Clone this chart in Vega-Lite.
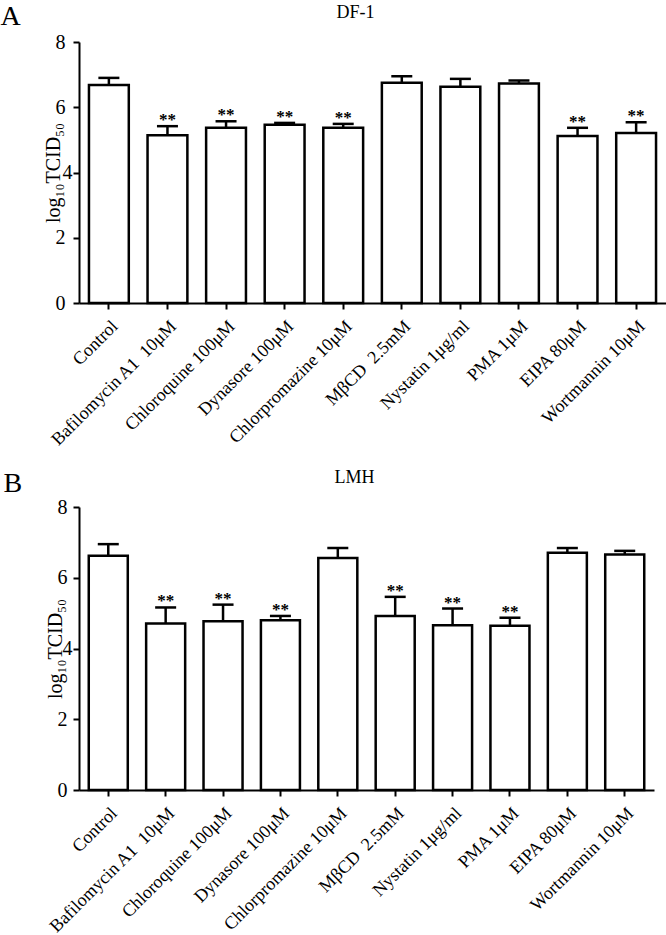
{
  "$schema": "https://vega.github.io/schema/vega-lite/v6.json",
  "background": "white",
  "padding": {"left": 0, "top": 2, "right": 0, "bottom": 0},
  "config": {
    "font": "Liberation Serif",
    "view": {"stroke": null},
    "axis": {"grid": false, "domainColor": "black", "tickColor": "black", "labelColor": "black", "titleColor": "black", "domainWidth": 2, "tickWidth": 2, "labelFont": "Liberation Serif", "titleFont": "Liberation Serif"},
    "title": {"font": "Liberation Serif", "fontWeight": "normal", "color": "black"}
  },
  "datasets": {
    "dfone": [
      {"treatment": "Control", "mean": 6.68, "upper": 6.9, "sig": ""},
      {"treatment": "Bafilomycin A1\u00a0 10μM", "mean": 5.14, "upper": 5.42, "sig": "**"},
      {"treatment": "Chloroquine 100μM", "mean": 5.37, "upper": 5.57, "sig": "**"},
      {"treatment": "Dynasore 100μM", "mean": 5.46, "upper": 5.52, "sig": "**"},
      {"treatment": "Chlorpromazine 10μM", "mean": 5.37, "upper": 5.49, "sig": "**"},
      {"treatment": "MβCD\u00a0 2.5mM", "mean": 6.75, "upper": 6.95, "sig": ""},
      {"treatment": "Nystatin 1μg/ml", "mean": 6.63, "upper": 6.87, "sig": ""},
      {"treatment": "PMA 1μM", "mean": 6.73, "upper": 6.82, "sig": ""},
      {"treatment": "EIPA 80μM", "mean": 5.12, "upper": 5.37, "sig": "**"},
      {"treatment": "Wortmannin 10μM", "mean": 5.21, "upper": 5.54, "sig": "**"}
    ],
    "lmh": [
      {"treatment": "Control", "mean": 6.62, "upper": 6.95, "sig": ""},
      {"treatment": "Bafilomycin A1\u00a0 10μM", "mean": 4.71, "upper": 5.16, "sig": "**"},
      {"treatment": "Chloroquine 100μM", "mean": 4.77, "upper": 5.24, "sig": "**"},
      {"treatment": "Dynasore 100μM", "mean": 4.8, "upper": 4.92, "sig": "**"},
      {"treatment": "Chlorpromazine 10μM", "mean": 6.56, "upper": 6.84, "sig": ""},
      {"treatment": "MβCD\u00a0 2.5mM", "mean": 4.92, "upper": 5.46, "sig": "**"},
      {"treatment": "Nystatin 1μg/ml", "mean": 4.66, "upper": 5.13, "sig": "**"},
      {"treatment": "PMA 1μM", "mean": 4.64, "upper": 4.87, "sig": "**"},
      {"treatment": "EIPA 80μM", "mean": 6.71, "upper": 6.84, "sig": ""},
      {"treatment": "Wortmannin 10μM", "mean": 6.66, "upper": 6.76, "sig": ""}
    ]
  },
  "vconcat": [
    {
      "data": {"name": "dfone"},
      "width": 587,
      "height": 261,
      "title": {"text": "DF-1", "fontSize": 18, "anchor": "middle", "frame": "group", "dx": -17, "dy": 24},
      "encoding": {
        "x": {"field": "treatment", "type": "nominal", "sort": null, "scale": {"paddingInner": 0.32, "paddingOuter": 0.17}},
        "y": {"type": "quantitative", "scale": {"domain": [0, 8], "nice": false}}
      },
      "resolve": {"axis": {"x": "independent"}},
      "layer": [
        {
          "mark": {"type": "bar", "fill": "white", "stroke": "black", "strokeWidth": 2.5},
          "encoding": {
            "x": {"field": "treatment", "type": "nominal", "sort": null, "axis": {"orient": "bottom", "title": null, "labelAngle": -45, "labelFontSize": 18, "labelLimit": 0, "tickSize": 6, "labelPadding": 8}},
            "y": {"field": "mean", "type": "quantitative", "axis": {"title": "log₁₀TCID₅₀", "titleFontSize": 20, "titleFontWeight": "normal", "labelFontSize": 20, "values": [0, 2, 4, 6, 8], "tickSize": 6, "labelPadding": {"condition": {"test": "datum.value == 4", "value": 1}, "value": 8}, "titlePadding": -8}}
          }
        },
        {
          "mark": {"type": "rule", "stroke": "black", "strokeWidth": 2.5},
          "encoding": {
            "x": {"field": "treatment", "type": "nominal", "sort": null, "axis": {"orient": "top", "domain": false, "ticks": false, "labels": false, "title": "A", "titleFontSize": 28, "titleFontWeight": "normal", "titleX": -79, "titleY": -18, "titleAlign": "left", "titleBaseline": "alphabetic"}},
            "y": {"field": "mean", "type": "quantitative"},
            "y2": {"field": "upper"}
          }
        },
        {
          "mark": {"type": "tick", "color": "black", "size": 21, "thickness": 2.5, "opacity": 1},
          "encoding": {
            "x": {"field": "treatment", "type": "nominal", "sort": null, "axis": null},
            "y": {"field": "upper", "type": "quantitative"}
          }
        },
        {
          "mark": {"type": "text", "fontSize": 17, "fontWeight": "bold", "baseline": "alphabetic", "dy": -1, "color": "black"},
          "encoding": {
            "x": {"field": "treatment", "type": "nominal", "sort": null, "axis": null},
            "y": {"field": "upper", "type": "quantitative"},
            "text": {"field": "sig"}
          }
        }
      ]
    },
    {
      "data": {"name": "lmh"},
      "width": 575,
      "height": 283,
      "title": {"text": "LMH", "fontSize": 18, "anchor": "middle", "frame": "group", "dx": -12, "dy": 22},
      "encoding": {
        "x": {"field": "treatment", "type": "nominal", "sort": null, "scale": {"paddingInner": 0.32, "paddingOuter": 0.17}},
        "y": {"type": "quantitative", "scale": {"domain": [0, 8], "nice": false}}
      },
      "resolve": {"axis": {"x": "independent"}},
      "layer": [
        {
          "mark": {"type": "bar", "fill": "white", "stroke": "black", "strokeWidth": 2.5},
          "encoding": {
            "x": {"field": "treatment", "type": "nominal", "sort": null, "axis": {"orient": "bottom", "title": null, "labelAngle": -45, "labelFontSize": 18, "labelLimit": 0, "tickSize": 6, "labelPadding": 8}},
            "y": {"field": "mean", "type": "quantitative", "axis": {"title": "log₁₀TCID₅₀", "titleFontSize": 20, "titleFontWeight": "normal", "labelFontSize": 20, "values": [0, 2, 4, 6, 8], "tickSize": 6, "labelPadding": {"condition": {"test": "datum.value == 4", "value": 1}, "value": 6}, "titlePadding": -8}}
          }
        },
        {
          "mark": {"type": "rule", "stroke": "black", "strokeWidth": 2.5},
          "encoding": {
            "x": {"field": "treatment", "type": "nominal", "sort": null, "axis": {"orient": "top", "domain": false, "ticks": false, "labels": false, "title": "B", "titleFontSize": 28, "titleFontWeight": "normal", "titleX": -76, "titleY": -16, "titleAlign": "left", "titleBaseline": "alphabetic"}},
            "y": {"field": "mean", "type": "quantitative"},
            "y2": {"field": "upper"}
          }
        },
        {
          "mark": {"type": "tick", "color": "black", "size": 21, "thickness": 2.5, "opacity": 1},
          "encoding": {
            "x": {"field": "treatment", "type": "nominal", "sort": null, "axis": null},
            "y": {"field": "upper", "type": "quantitative"}
          }
        },
        {
          "mark": {"type": "text", "fontSize": 17, "fontWeight": "bold", "baseline": "alphabetic", "dy": -1, "color": "black"},
          "encoding": {
            "x": {"field": "treatment", "type": "nominal", "sort": null, "axis": null},
            "y": {"field": "upper", "type": "quantitative"},
            "text": {"field": "sig"}
          }
        }
      ]
    }
  ],
  "spacing": 19
}
